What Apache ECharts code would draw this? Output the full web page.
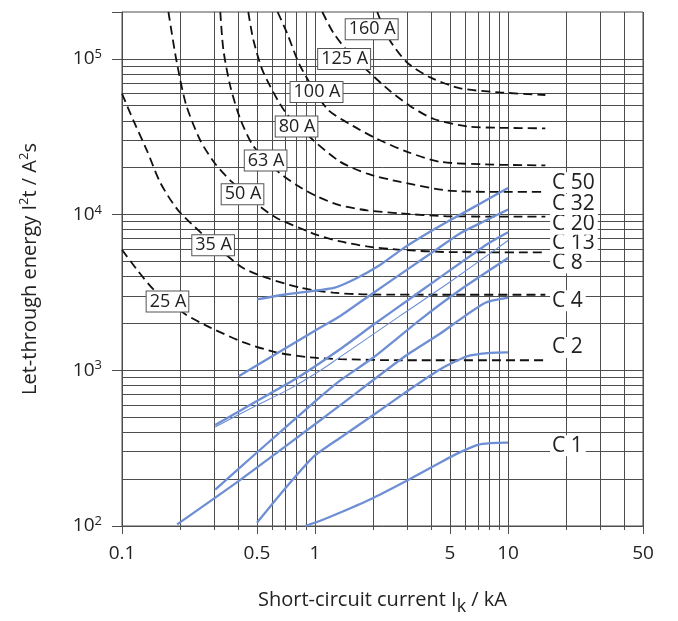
<!DOCTYPE html>
<html lang="en">
<head>
<meta charset="UTF-8">
<title>Let-through energy</title>
<script src="https://cdn.jsdelivr.net/npm/echarts@6/dist/echarts.min.js"></script>
<style>
    *{margin:0;padding:0;}
    html,body{width:100%;height:100%;background:#fff;}
    #chart{width:678px;height:621px;}
</style>
</head>
<body>
<div id="chart"></div>
<script>
// fuse curves (dashed): [kA, A²s]
var fuseNames = ['25 A', '35 A', '50 A', '63 A', '80 A', '100 A', '125 A', '160 A'];
var fuse25 = [[0.1,5940],[0.12,4400],[0.146,3300],[0.213,2290],[0.287,1880],[0.427,1510],[0.636,1300],[0.945,1210],[1.35,1180],[2.77,1160],[15.6,1160]];
var fuse35 = [[0.1,59800],[0.115,39800],[0.135,25600],[0.158,16000],[0.2,10300],[0.41,4660],[0.564,3920],[0.839,3390],[1.24,3150],[1.86,3070],[5.0,3056],[15.6,3056]];
var fuse50 = [[0.174,200000],[0.191,99000],[0.2145,51100],[0.2545,29900],[0.304,21200],[0.371,16200],[0.521,11220],[0.636,9470],[0.839,8170],[1.024,7400],[1.352,6720],[1.86,6240],[2.77,5940],[5.02,5740],[15.6,5720]];
var fuse63 = [[0.323,200000],[0.335,114600],[0.364,66600],[0.41,41100],[0.479,27600],[0.645,18800],[0.81,15350],[1.028,13060],[1.352,11450],[1.866,10640],[2.77,10180],[4.85,9750],[15.6,9700]];
var fuse80 = [[0.451,200000],[0.479,132700],[0.54,81800],[0.702,45500],[0.983,29900],[1.352,21800],[1.866,18300],[2.77,16200],[4.85,14270],[8.09,14000],[15.6,14000]];
var fuse100 = [[0.64,200000],[0.716,146600],[0.839,89700],[1.158,47600],[1.579,37000],[2.1,30600],[3.0,25300],[4.457,21800],[9.12,20900],[15.6,20700]];
var fuse125 = [[1.091,200000],[1.244,147100],[1.524,106500],[1.911,81800],[2.456,61900],[3.118,49700],[4.117,41100],[6.15,36800],[9.12,36100],[15.6,35800]];
var fuse160 = [[2.1,200000],[2.43,132700],[3.0,94700],[3.958,76000],[5.66,64700],[9.12,60900],[15.6,58600]];
var fuseLabelAt = [[0.172,2765],[0.2965,6345],[0.421,13490],[0.5546,22250],[0.802,36760],[1.018,61380],[1.415,99700],[1.965,154900]];

// MCB C-characteristic curves (solid blue): [kA, A²s]
var mcbNames = ['C 1', 'C 2', 'C 4', 'C 8', 'C 13', 'C 20', 'C 32', 'C 50'];
var c1 = [[0.891,100],[1.065,108],[1.352,122],[2.012,152],[3.0,196],[4.457,256],[5.66,298],[6.9,331],[8.09,341],[10,343]];
var c2 = [[0.5,105],[0.702,175],[0.983,279],[1.352,369],[2.012,518],[3.118,758],[4.457,1016],[6.13,1230],[8.09,1294],[10,1303]];
var c4 = [[0.193,102.5],[0.41,198],[1.065,478],[1.352,597],[2.877,1212],[4.457,1723],[6.01,2244],[7.63,2717],[10,2924]];
var c8 = [[0.304,171],[0.521,310],[1.065,674],[1.352,861],[2.012,1212],[3.51,2117],[5.66,3290],[10,5260]];
var c13 = [[0.304,433],[0.5,597],[0.716,743],[1.065,997],[1.3,1180],[2.767,2244],[5.02,3700],[10,6820]];
var c20 = [[0.304,445],[0.5,635],[0.807,891],[1.352,1369],[2.012,1967],[3.0,2799],[4.117,3700],[5.66,4886],[7.78,6457],[10,7706]];
var c32 = [[0.402,917],[1.065,1883],[1.352,2234],[2.012,3150],[3.0,4430],[4.117,5800],[5.66,7590],[7.47,9020],[10,10790]];
var c50 = [[0.5,2851],[0.6875,3056],[1.25,3385],[1.651,3920],[2.18,4765],[2.877,6090],[3.958,7780],[5.224,9470],[7.19,11780],[10,14840]];
var mcbLabelAt = [[16.4,328],[16.4,1403],[16.4,2798],[16.4,4890],[16.4,6555],[16.4,8660],[16.4,11610],[16.4,16040]];

var xTickLabels = [0.1, 0.5, 1, 5, 10, 50];

var FONT = 'Open Sans';
var TXT = '#222';
var GRID = '#4d4d4d';

// grid lines of the log-log paper (1..9 per decade)
var xGrid = [], yGrid = [];
[0.1, 1, 10].forEach(function (d) {
    for (var k = 1; k <= 9; k++) {
        var v = +(k * d).toPrecision(3);
        if (v <= 50) xGrid.push(v);
    }
});
[100, 1000, 10000, 100000].forEach(function (d) {
    for (var k = 1; k <= 9; k++) {
        var v = k * d;
        if (v > 100 && v <= 100000) yGrid.push(v);
    }
});

var fuseData = [fuse25, fuse35, fuse50, fuse63, fuse80, fuse100, fuse125, fuse160];
var mcbData = [c1, c2, c4, c8, c13, c20, c32, c50];

var gridLines = {
    silent: true,
    z: 1,
    animation: false,
    symbol: ['none', 'none'],
    lineStyle: {color: GRID, width: 1, type: 'solid'},
    label: {show: false},
    data: xGrid.map(function (v) { return {xAxis: v}; })
        .concat(yGrid.map(function (v) { return {yAxis: v}; }))
};

var series = [];
fuseData.forEach(function (d, i) {
    var s = {
        name: fuseNames[i],
        type: 'line',
        data: d,
        z: 6,
        smooth: 0.25,
        symbol: 'none',
        silent: true,
        lineStyle: {color: '#111', width: 1.8, type: [9, 5]},
        markPoint: {
            z: 8,
            silent: true,
            animation: false,
            symbol: 'rect',
            symbolSize: 1,
            itemStyle: {color: 'rgba(0,0,0,0)'},
            label: {
                show: true,
                position: 'inside',
                formatter: fuseNames[i],
                fontFamily: FONT,
                fontSize: 18,
                color: TXT,
                backgroundColor: '#fff',
                borderColor: '#555',
                borderWidth: 1,
                padding: [2, 2, 0, 3]
            },
            data: [{coord: fuseLabelAt[i]}]
        }
    };
    if (i === 0) s.markLine = gridLines;
    series.push(s);
});

mcbData.forEach(function (d, i) {
    series.push({
        name: mcbNames[i],
        type: 'line',
        data: d,
        z: 7,
        smooth: 0.2,
        symbol: 'none',
        silent: true,
        lineStyle: {color: '#6e8fd4', width: mcbNames[i] === 'C 13' ? 1.1 : 2.3, join: 'round'},
        markPoint: {
            z: 8,
            silent: true,
            animation: false,
            symbol: 'rect',
            symbolSize: 1,
            itemStyle: {color: 'rgba(0,0,0,0)'},
            label: {
                show: true,
                position: 'right',
                distance: 0,
                formatter: mcbNames[i],
                fontFamily: FONT,
                fontSize: 21,
                color: TXT,
                backgroundColor: '#fff',
                padding: [0, 3, 0, 2]
            },
            data: [{coord: mcbLabelAt[i]}]
        }
    });
});

var myChart = echarts.init(document.getElementById('chart'));
var option = {
    animation: false,
    backgroundColor: '#fff',
    textStyle: {fontFamily: FONT},
    grid: {
        left: 122, right: 35, top: 12, bottom: 91,
        show: true, borderColor: GRID, borderWidth: 1, backgroundColor: 'transparent'
    },
    xAxis: [{
        type: 'log',
        logBase: 10,
        min: 0.1,
        max: 50,
        position: 'bottom',
        axisLine: {lineStyle: {color: GRID, width: 1}},
        axisTick: {show: true, length: 4, customValues: xGrid, lineStyle: {color: GRID}},
        axisLabel: {show: false},
        splitLine: {show: false},
        name: 'Short-circuit current I{sub|k} / kA',
        nameLocation: 'middle',
        nameGap: 58,
        nameTextStyle: {
            fontFamily: FONT, fontSize: 20, color: TXT, lineHeight: 32,
            rich: {sub: {fontFamily: FONT, fontSize: 18, color: TXT, lineHeight: 16, verticalAlign: 'bottom'}}
        }
    }, {
        // labelled ticks: 0.1, 0.5, 1, 5, 10, 50
        type: 'log',
        logBase: 10,
        min: 0.1,
        max: 50,
        position: 'bottom',
        axisLine: {show: false},
        axisTick: {show: true, length: 8, customValues: xTickLabels, lineStyle: {color: GRID}},
        axisLabel: {
            show: true,
            customValues: xTickLabels,
            margin: 18,
            fontFamily: FONT,
            fontSize: 19,
            color: TXT,
            formatter: function (v) { return String(+v.toPrecision(3)); }
        },
        splitLine: {show: false}
    }],
    yAxis: {
        type: 'log',
        logBase: 10,
        min: 100,
        max: 200000,
        axisLine: {show: true, lineStyle: {color: GRID, width: 1}},
        axisTick: {show: true, length: 10, lineStyle: {color: GRID}},
        axisLabel: {
            margin: 20,
            fontFamily: FONT,
            fontSize: 19,
            color: TXT,
            lineHeight: 22,
            formatter: function (v) {
                var e = Math.round(Math.log10(v));
                if (Math.abs(v - Math.pow(10, e)) > 1e-6 * v) return '';
                return '10{sup|' + e + '}';
            },
            rich: {sup: {fontFamily: FONT, fontSize: 13, color: TXT, lineHeight: 13, verticalAlign: 'top'}}
        },
        splitLine: {show: false},
        name: 'Let-through energy I{sup|2}t / A{sup|2}s',
        nameLocation: 'middle',
        nameGap: 80,
        nameTextStyle: {
            fontFamily: FONT, fontSize: 20, color: TXT, lineHeight: 24,
            rich: {sup: {fontFamily: FONT, fontSize: 13, color: TXT, lineHeight: 13, verticalAlign: 'top'}}
        }
    },
    series: series
};
myChart.setOption(option);
window.onresize = myChart.resize;
</script>
</body>
</html>
